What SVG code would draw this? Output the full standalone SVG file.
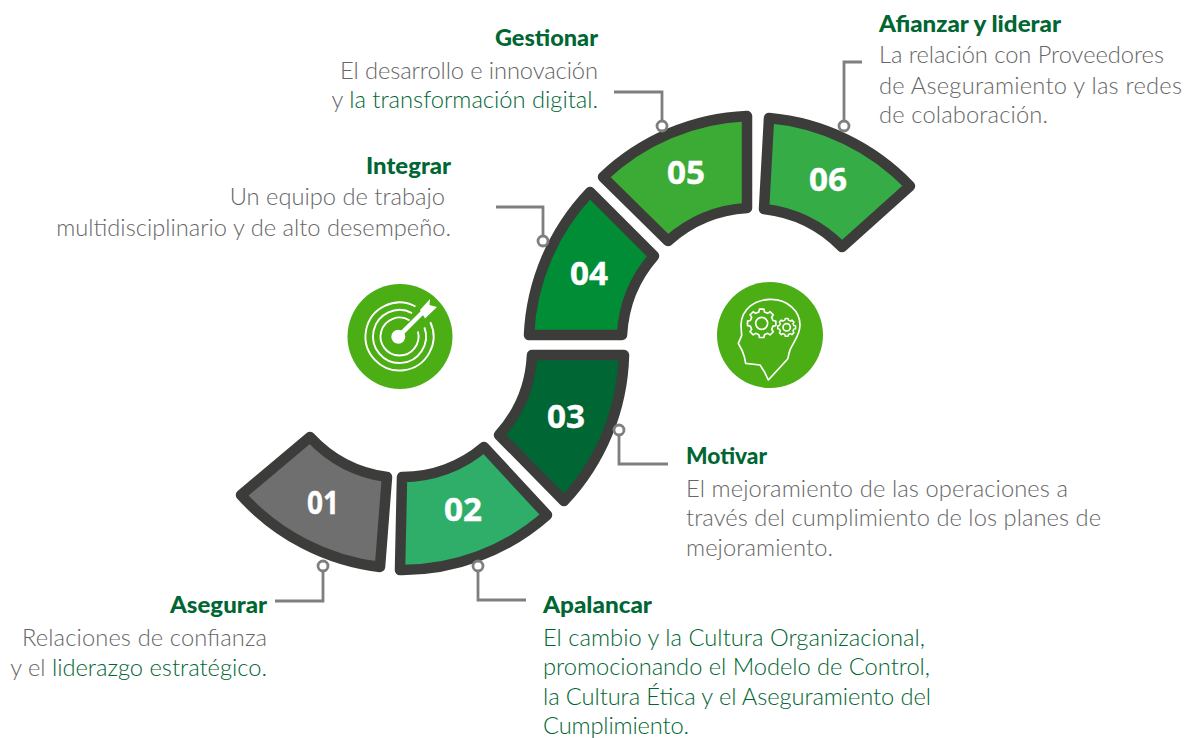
<svg xmlns="http://www.w3.org/2000/svg" xmlns:xlink="http://www.w3.org/1999/xlink" width="1189" height="738" viewBox="0 0 1189 738">
<style>
text{font-family:"Lato","Noto Sans",sans-serif}
.seg{stroke:#3c3c3b;stroke-width:10.500;stroke-linejoin:round}
.num{font-family:"Open Sans","Noto Sans",sans-serif;font-weight:700;font-size:33px;fill:#fff;text-anchor:middle;stroke:#fff;stroke-width:.4}
.h{font-weight:900;font-size:23px;fill:#006633}
.b{font-weight:300;font-size:23.700px;fill:#666}
.g{fill:#006633}
.end{text-anchor:end}
.lead{fill:none;stroke:#7f7f7f;stroke-width:2.800}
.dot{fill:#fff;stroke:#7f7f7f;stroke-width:2.800}
.ic{fill:none;stroke:#fff;stroke-width:1.900}
</style>
<defs>
<path id="gear" d="M34-8.500 42.500-6.700 42.500 6.700 34 8.500 30 18 34.800 25.300 25.300 34.800 18 30 8.500 34 6.700 42.500-6.700 42.500-8.500 34-18 30-25.300 34.800-34.800 25.300-30 18-34 8.500-42.500 6.700-42.500-6.700-34-8.500-30-18-34.800-25.300-25.300-34.800-18-30-8.500-34-6.700-42.500 6.700-42.500 8.500-34 18-30 25.300-34.800 34.800-25.300 30-18Z"/>
</defs>
<g id="connectors">
<path class="lead" d="M323 571V601H275"/>
<path class="lead" d="M478 571V600H526"/>
<path class="lead" d="M619 435V464H668"/>
<path class="lead" d="M543 236V207H496"/>
<path class="lead" d="M662 121V92H614"/>
<path class="lead" d="M844 121V62H862"/>
</g>
<g id="node-01">
<path class="seg" fill="#6f6f6f" d="M241 495A222 222 0 0 0 380 567L387 477A128 128 0 0 1 310 437Z"/>
<circle class="dot" cx="323" cy="566" r="5"/>
<text class="num" x="323" y="514" textLength="32" lengthAdjust="spacingAndGlyphs">01</text>
<text class="h end" x="267" y="613" textLength="97" lengthAdjust="spacingAndGlyphs">Asegurar</text>
<text class="b end" x="267" y="646" textLength="245">Relaciones de confianza</text>
<text class="b end" x="267" y="676">y el <tspan class="g">liderazgo estratégico.</tspan></text>
</g>
<g id="node-02">
<path class="seg" fill="#2fae6a" d="M400 570A218 218 0 0 0 547 515L484 447A125 125 0 0 1 402 477Z"/>
<circle class="dot" cx="478" cy="566" r="5"/>
<text class="num" x="463" y="521" textLength="38" lengthAdjust="spacingAndGlyphs">02</text>
<text class="h" x="543" y="613" textLength="109" lengthAdjust="spacingAndGlyphs">Apalancar</text>
<text class="b g" x="543" y="646" textLength="382">El cambio y la Cultura Organizacional,</text>
<text class="b g" x="543" y="675" textLength="387">promocionando el Modelo de Control,</text>
<text class="b g" x="543" y="705" textLength="388">la Cultura Ética y el Aseguramiento del</text>
<text class="b g" x="543" y="734" textLength="146">Cumplimiento.</text>
</g>
<g id="node-03">
<path class="seg" fill="#006633" d="M564 501A222 222 0 0 0 624 355H532A128 128 0 0 1 499 435Z"/>
<circle class="dot" cx="619" cy="430" r="5"/>
<text class="num" x="566" y="428" textLength="38" lengthAdjust="spacingAndGlyphs">03</text>
<text class="h" x="686" y="464" textLength="81" lengthAdjust="spacingAndGlyphs">Motivar</text>
<text class="b" x="686" y="497" textLength="382">El mejoramiento de las operaciones a</text>
<text class="b" x="686" y="526" textLength="415">través del cumplimiento de los planes de</text>
<text class="b" x="686" y="556" textLength="147">mejoramiento.</text>
</g>
<g id="node-04">
<path class="seg" fill="#008d36" d="M529 335A222 222 0 0 1 590 192L654 256A130 130 0 0 0 622 335Z"/>
<circle class="dot" cx="543" cy="241" r="5"/>
<text class="num" x="589" y="285" textLength="38" lengthAdjust="spacingAndGlyphs">04</text>
<text class="h end" x="451" y="174" textLength="85" lengthAdjust="spacingAndGlyphs">Integrar</text>
<text class="b end" x="445" y="205">Un equipo de trabajo</text>
<text class="b end" x="451" y="236">multidisciplinario y de alto desempeño.</text>
</g>
<g id="node-05">
<path class="seg" fill="#3cab35" d="M603 177A222 222 0 0 1 747 116V208A130 130 0 0 0 668 241Z"/>
<circle class="dot" cx="662" cy="126" r="5"/>
<text class="num" x="686" y="184" textLength="38" lengthAdjust="spacingAndGlyphs">05</text>
<text class="h end" x="598" y="46" textLength="103" lengthAdjust="spacingAndGlyphs">Gestionar</text>
<text class="b end" x="598" y="79" textLength="258">El desarrollo e innovación</text>
<text class="b end" x="598" y="108">y <tspan class="g">la transformación digital.</tspan></text>
</g>
<g id="node-06">
<path class="seg" fill="#36ac47" d="M769 118A222 222 0 0 1 910 186L842 247A130 130 0 0 0 764 209Z"/>
<circle class="dot" cx="844" cy="126" r="5"/>
<text class="num" x="828" y="191" textLength="38" lengthAdjust="spacingAndGlyphs">06</text>
<text class="h" x="879" y="32" textLength="182" lengthAdjust="spacingAndGlyphs">Afianzar y liderar</text>
<text class="b" x="879" y="63" textLength="285">La relación con Proveedores</text>
<text class="b" x="879" y="94" textLength="303">de Aseguramiento y las redes</text>
<text class="b" x="879" y="123" textLength="169">de colaboración.</text>
</g>
<g id="icon-target">
<circle cx="400" cy="336.500" r="52.500" fill="#4aae14"/>
<path class="ic" d="M415.500 306.500A34 34 0 1 0 430.300 322.100"/>
<path class="ic" d="M412 313.100A26.500 26.500 0 1 0 424.400 327.400"/>
<path class="ic" d="M409.600 320.400A19 19 0 1 0 417.900 331.600"/>
<circle cx="398.300" cy="336.700" r="7" fill="#fff"/>
<path d="M398.300 336.700 424 311" stroke="#fff" stroke-width="4.500" fill="none"/>
<path d="M420 310 430 299 429.500 305 437 307 425 318.500Z" fill="#fff"/>
</g>
<g id="icon-head">
<circle cx="770" cy="335" r="53" fill="#4aae14"/>
<g transform="translate(705 275) scale(.3333)" fill="none" stroke="#fff" stroke-width="5" stroke-linejoin="round">
<path d="M190 315 178 290 165 270 122 265 118 245 112 228 100 205 110 182 108 150C110 100 150 75 195 73 250 72 285 110 285 150 285 180 266 200 255 225 250 240 250 248 248 252Z"/>
<use xlink:href="#gear" transform="translate(170 145)"/>
<circle cx="170" cy="145" r="18"/>
<use xlink:href="#gear" transform="translate(245 157) scale(.63)" stroke-width="7"/>
<circle cx="245" cy="157" r="11"/>
</g>
</g>
</svg>
